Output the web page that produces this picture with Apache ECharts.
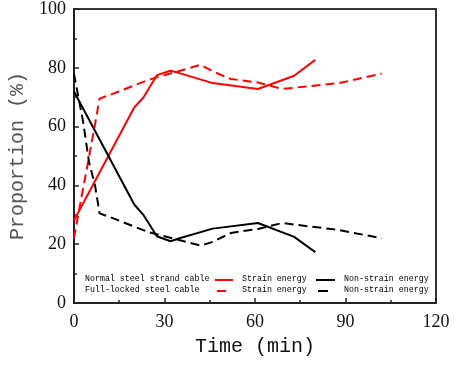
<!DOCTYPE html>
<html>
<head>
<meta charset="utf-8">
<script src="https://cdn.jsdelivr.net/npm/echarts@6/dist/echarts.min.js"></script>
<style>html,body{margin:0;padding:0;background:#fff}#c{width:455px;height:365px}</style>
</head>
<body>
<div id="c"></div>
<script>
// Normal steel strand cable
var normalTime = [0, 20, 23, 27.5, 32, 35, 46, 61, 73, 80];
var normalStrain = [28, 66.5, 69.8, 77.5, 79, 78.2, 74.8, 72.8, 77.3, 82.7];
var normalNonStrain = [72, 33.5, 30, 22.7, 21, 22, 25.3, 27.2, 22.5, 17.3];
// Full-locked steel cable
var lockedTime = [0, 3, 5, 7, 8.5, 12, 25, 42, 46, 52, 61, 69, 88, 102];
var lockedStrain = [22, 38.6, 49.6, 60.7, 69.5, 70.8, 76, 81, 78.8, 76.2, 75, 72.8, 74.8, 78];
var lockedNonStrain = [78, 62, 48, 40, 30.5, 29.2, 24, 19.5, 20.8, 23.8, 25.2, 27.2, 24.8, 22];

var xTicks = [0, 30, 60, 90, 120];
var yTicks = [0, 20, 40, 60, 80, 100];
var rowLabels = ['Normal steel strand cable', 'Full-locked steel cable'];
var energyLabels = ['Strain energy', 'Non-strain energy'];

function pairs(t, v) { return t.map(function (x, i) { return [x, v[i]]; }); }

var chart = echarts.init(document.getElementById('c'), null, { renderer: 'canvas' });
var tickFont = { fontFamily: 'Liberation Serif', fontSize: 18, color: '#111' };
var legendFont = { fontFamily: 'Liberation Mono', fontSize: 8.3, fill: '#000' };

function legendRow(y, label, dashed) {
  var els = [];
  els.push({ type: 'text', left: 85, top: y - 5, style: Object.assign({ text: label }, legendFont) });
  els.push({ type: 'line', shape: dashed ? { x1: 217, y1: y, x2: 226, y2: y } : { x1: 215, y1: y, x2: 233, y2: y }, style: { stroke: '#ff0000', lineWidth: 2 } });
  els.push({ type: 'text', left: 242, top: y - 5, style: Object.assign({ text: energyLabels[0] }, legendFont) });
  els.push({ type: 'line', shape: dashed ? { x1: 318, y1: y, x2: 328, y2: y } : { x1: 316, y1: y, x2: 335, y2: y }, style: { stroke: '#000', lineWidth: 2 } });
  els.push({ type: 'text', left: 344, top: y - 5, style: Object.assign({ text: energyLabels[1] }, legendFont) });
  return els;
}

chart.setOption({
  animation: false,
  backgroundColor: '#fff',
  grid: { left: 70.5, right: 19, top: 9, bottom: 62 },
  xAxis: [{
    type: 'value', min: xTicks[0], max: xTicks[xTicks.length - 1], interval: 30,
    name: 'Time (min)', nameLocation: 'middle', nameGap: 34,
    nameTextStyle: { fontFamily: 'Liberation Mono', fontSize: 20, color: '#111' },
    axisLine: { lineStyle: { color: '#222', width: 2 } },
    axisTick: { inside: true, length: 5, lineStyle: { color: '#222', width: 1.5 } },
    minorTick: { show: true, splitNumber: 2, length: 3, lineStyle: { color: '#222', width: 1.5 } },
    axisLabel: Object.assign({ margin: 10 }, tickFont),
    splitLine: { show: false }
  }, {
    type: 'value', position: 'top', min: 0, max: 120,
    axisLine: { show: true, onZero: false, lineStyle: { color: '#333', width: 2 } },
    axisTick: { show: false }, axisLabel: { show: false }, splitLine: { show: false }
  }],
  yAxis: [{
    type: 'value', min: yTicks[0], max: yTicks[yTicks.length - 1], interval: 20,
    name: 'Proportion (%)', nameLocation: 'middle', nameGap: 37,
    nameTextStyle: { fontFamily: 'Liberation Mono', fontSize: 20, color: '#555' },
    axisLine: { show: true, lineStyle: { color: '#222', width: 2 } },
    axisTick: { inside: true, length: 5, lineStyle: { color: '#222', width: 1.5 } },
    minorTick: { show: true, splitNumber: 2, length: 3, lineStyle: { color: '#222', width: 1.5 } },
    axisLabel: Object.assign({ margin: 8 }, tickFont),
    splitLine: { show: false }
  }, {
    type: 'value', position: 'right', min: 0, max: 100,
    axisLine: { show: true, onZero: false, lineStyle: { color: '#333', width: 2 } },
    axisTick: { show: false }, axisLabel: { show: false }, splitLine: { show: false }
  }],
  series: [
    { name: 'Normal strain', type: 'line', data: pairs(normalTime, normalStrain), showSymbol: false, lineStyle: { color: '#ff0000', width: 2 } },
    { name: 'Normal non-strain', type: 'line', data: pairs(normalTime, normalNonStrain), showSymbol: false, lineStyle: { color: '#000', width: 2 } },
    { name: 'Locked strain', type: 'line', data: pairs(lockedTime, lockedStrain), showSymbol: false, lineStyle: { color: '#ff0000', width: 2, type: [9, 5] } },
    { name: 'Locked non-strain', type: 'line', data: pairs(lockedTime, lockedNonStrain), showSymbol: false, lineStyle: { color: '#000', width: 2, type: [9, 5] } }
  ],
  graphic: legendRow(280, rowLabels[0], false).concat(legendRow(291, rowLabels[1], true))
});
</script>
</body>
</html>
